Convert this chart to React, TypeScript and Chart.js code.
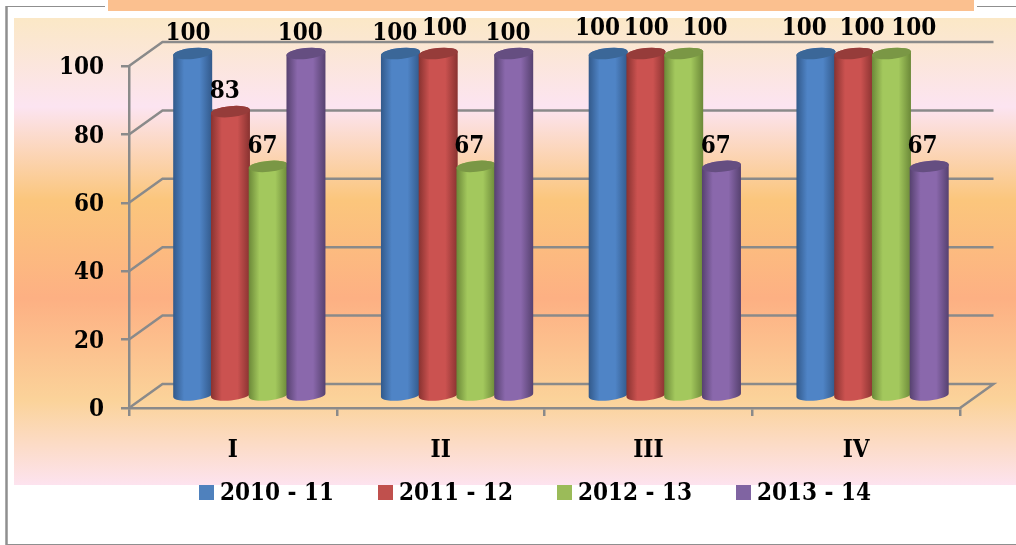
import React, { useEffect, useRef } from "react";
import { Chart, registerables } from "chart.js";

Chart.register(...registerables);

const categories = ["I", "II", "III", "IV"];
const seriesNames = ["2010 - 11", "2011 - 12", "2012 - 13", "2013 - 14"];
const values2010 = [100, 100, 100, 100];
const values2011 = [83, 100, 100, 100];
const values2012 = [67, 67, 100, 100];
const values2013 = [100, 100, 67, 67];

const FONT = '"DejaVu Serif Condensed", "DejaVu Serif", serif';
const GRID = "#8a8a8a";
const DEPTH_X = 33.5;
const DEPTH_Y = -24;
const palette = [
  { base: "#4f84c6", edge: "#32598a", top: "#3b6798", legend: "#4f81bd" },
  { base: "#cb5250", edge: "#883230", top: "#963c3a", legend: "#c0504d" },
  { base: "#a3c85d", edge: "#6b8838", top: "#7a9745", legend: "#9bbb59" },
  { base: "#8a68ac", edge: "#56416f", top: "#654e81", legend: "#8064a2" },
];
const labelOffsetX = [
  [-5, -6, -11, -12],
  [-6, 6, 0, 8],
  [-6, -7, 21, 22],
  [-6, -6, -6, -7],
];
const labelOffsetY = [
  [-20, -20, -25, -25],
  [-20, -25, -25, -25],
  [-20, -20, -25, -25],
  [-20, -20, -20, -20],
];

const pagePlugin = {
  id: "page",
  beforeDraw(chart: any) {
    const c = chart.ctx;
    c.save();
    c.fillStyle = "#ffffff";
    c.fillRect(0, 0, 1016, 545);
    const g = c.createLinearGradient(0, 18, 0, 485);
    g.addColorStop(0, "#fbe8c6");
    g.addColorStop(0.19, "#fce4f1");
    g.addColorStop(0.39, "#fbc67c");
    g.addColorStop(0.6, "#fdb083");
    g.addColorStop(0.82, "#fbd39a");
    g.addColorStop(1, "#fde3ef");
    c.fillStyle = g;
    c.fillRect(14, 18, 1002, 467);
    c.fillStyle = "#fbc08f";
    c.fillRect(108, 0, 866, 11);
    c.strokeStyle = "#8f8f8f";
    c.lineWidth = 1.2;
    c.beginPath();
    c.moveTo(6, 6.5);
    c.lineTo(105, 6.5);
    c.moveTo(977, 6.5);
    c.lineTo(1016, 6.5);
    c.moveTo(6, 544.5);
    c.lineTo(1016, 544.5);
    c.stroke();
    c.lineWidth = 2.5;
    c.beginPath();
    c.moveTo(6.5, 6);
    c.lineTo(6.5, 545);
    c.stroke();
    c.restore();
  },
};

function drawCylinder(c: any, x: number, top: number, bottom: number, w: number, p: any) {
  const rx = w / 2;
  const ry = 5.5;
  const rot = (-5.5 * Math.PI) / 180;
  const g = c.createLinearGradient(x - rx, 0, x + rx, 0);
  g.addColorStop(0, p.edge);
  g.addColorStop(0.28, p.base);
  g.addColorStop(0.68, p.base);
  g.addColorStop(1, p.edge);
  c.beginPath();
  c.ellipse(x, bottom, rx, ry, rot, 0, Math.PI);
  c.ellipse(x, top, rx, ry, rot, Math.PI, 2 * Math.PI);
  c.closePath();
  c.fillStyle = g;
  c.fill();
  c.beginPath();
  c.ellipse(x, top, rx, ry, rot, 0, 2 * Math.PI);
  c.fillStyle = p.top;
  c.fill();
}

const scenePlugin = {
  id: "scene",
  beforeDatasetsDraw(chart: any) {
    const c = chart.ctx;
    const { x, y } = chart.scales;
    const left = x.left;
    const right = x.right;
    c.save();
    c.strokeStyle = GRID;
    c.lineWidth = 2.5;
    c.lineJoin = "miter";
    y.ticks.forEach((t: any) => {
      const py = y.getPixelForValue(t.value);
      c.beginPath();
      c.moveTo(left, py);
      c.lineTo(left + DEPTH_X, py + DEPTH_Y);
      c.lineTo(right + DEPTH_X, py + DEPTH_Y);
      if (t.value === 0) c.lineTo(right, py);
      c.stroke();
    });
    chart.data.datasets.forEach((_: any, i: number) => {
      chart.getDatasetMeta(i).data.forEach((bar: any) => {
        drawCylinder(
          c,
          bar.x + DEPTH_X / 2 - 0.3,
          bar.y + DEPTH_Y / 2 - 0.5,
          bar.base + DEPTH_Y / 2 + 0.3,
          bar.width + 1.4,
          palette[i],
        );
      });
    });
    c.restore();
    return false;
  },
};

const overlayPlugin = {
  id: "overlay",
  afterDraw(chart: any) {
    const c = chart.ctx;
    c.save();
    c.fillStyle = "#000000";
    c.font = `bold 24px ${FONT}`;
    c.textAlign = "center";
    c.textBaseline = "middle";
    chart.data.datasets.forEach((ds: any, i: number) => {
      chart.getDatasetMeta(i).data.forEach((bar: any, j: number) => {
        c.fillText(
          String(ds.data[j]),
          bar.x + DEPTH_X / 2 + labelOffsetX[i][j],
          bar.y + DEPTH_Y / 2 - 0.5 + labelOffsetY[i][j],
        );
      });
    });
    c.textAlign = "left";
    const startX = 199;
    const pitch = 179;
    chart.data.datasets.forEach((ds: any, i: number) => {
      const lx = startX + i * pitch;
      c.fillStyle = palette[i].legend;
      c.fillRect(lx, 485, 15, 15);
      c.fillStyle = "#000000";
      c.fillText(ds.label, lx + 21, 494);
    });
    c.restore();
  },
};

export default function App() {
  const ref = useRef<HTMLCanvasElement>(null);
  useEffect(() => {
    const chart = new Chart(ref.current as HTMLCanvasElement, {
      type: "bar",
      data: {
        labels: categories,
        datasets: [values2010, values2011, values2012, values2013].map((data, i) => ({
          label: seriesNames[i],
          data,
          backgroundColor: palette[i].legend,
          barPercentage: 1,
          categoryPercentage: 0.727,
        })),
      },
      options: {
        responsive: false,
        animation: false,
        devicePixelRatio: 1,
        layout: { padding: { top: 66, right: 56, bottom: 0, left: 0 } },
        plugins: { legend: { display: false }, title: { display: false }, tooltip: { enabled: false } },
        scales: {
          x: {
            afterFit: (s: any) => {
              s.height = 137;
            },
            grid: { offset: true, drawOnChartArea: false, color: GRID, lineWidth: 2.5, tickLength: 8 },
            border: { display: true, color: GRID, width: 2.5 },
            ticks: { color: "#000000", font: { family: FONT, size: 24, weight: "bold" }, padding: 20, maxRotation: 0 },
          },
          y: {
            min: 0,
            max: 100,
            afterFit: (s: any) => {
              s.width = 129;
            },
            grid: { drawOnChartArea: false, color: GRID, lineWidth: 2.5, tickLength: 8 },
            border: { display: true, color: GRID, width: 2.5 },
            ticks: { stepSize: 20, color: "#000000", font: { family: FONT, size: 24, weight: "bold" }, padding: 17, labelOffset: 2 },
          },
        },
      },
      plugins: [pagePlugin, scenePlugin, overlayPlugin],
    } as any);
    return () => chart.destroy();
  }, []);
  return (
    <canvas
      ref={ref}
      width={1016}
      height={545}
      style={{ position: "absolute", left: 0, top: 0, display: "block" }}
    />
  );
}
